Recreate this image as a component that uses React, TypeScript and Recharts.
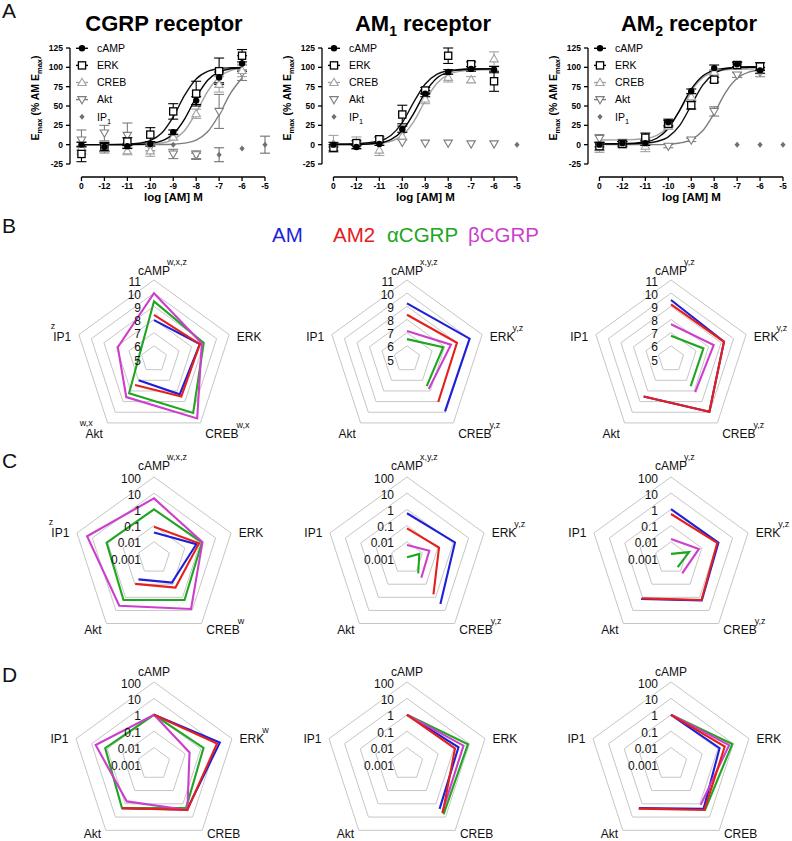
import React from 'react';
import {
  ComposedChart, Line, Scatter, XAxis, YAxis, ErrorBar, ReferenceLine,
  RadarChart, Radar, PolarGrid, PolarAngleAxis, PolarRadiusAxis,
} from 'recharts';

const FONT = '"Liberation Sans", Arial, Helvetica, sans-serif';

/* ---------------- Panel A : concentration-response ---------------- */
const CONC = [-13, -12, -11, -10, -9, -8, -7, -6]; // -13 = vehicle ("0")
const X_TICKS = [-13, -12, -11, -10, -9, -8, -7, -6, -5];
const Y_TICKS = [-25, 0, 25, 50, 75, 100, 125];
const CURVE_X = [-13, -12, -11, -10.5, -10, -9.5, -9, -8.5, -8, -7.5, -7, -6.5, -6];
const PATHWAYS = ['cAMP', 'ERK', 'CREB', 'Akt', 'IP1'];

// CGRP receptor
const CGRP_CAMP = [0, -3, -2, 1, 16, 57, 87, 105];
const CGRP_CAMP_SEM = [3, 5, 3, 3, 3, 5, 7, 10];
const CGRP_ERK = [-12, -3, 4, 13, 43, 66, 95, 115];
const CGRP_ERK_SEM = [10, 6, 5, 9, 10, 16, 17, 8];
const CGRP_CREB = [-4, -5, -8, -8, 10, 40, 78, 96];
const CGRP_CREB_SEM = [8, 6, 5, 7, 4, 6, 10, 8];
const CGRP_AKT = [6, 15, 12, -3, -12, -13, 43, 93];
const CGRP_AKT_SEM = [13, 10, 16, 5, 6, 5, 22, 10];
const CGRP_IP1_X = [-9, -8, -7, -6, -5];
const CGRP_IP1 = [0, -15, -13, -5, 0];
const CGRP_IP1_SEM = [0, 4, 9, 0, 11];
const CGRP_FIT_CAMP = [0, 0, 0.2, 0.5, 1.6, 4.8, 13.7, 33.4, 61.3, 83.4, 94.1, 98.1, 99.4];
const CGRP_FIT_ERK = [0, 0.1, 0.6, 1.8, 5.3, 15.1, 36, 64, 84.9, 94.7, 98.3, 99.4, 99.8];
const CGRP_FIT_CREB = [0, 0, 0.1, 0.2, 0.7, 2.2, 6.6, 18.3, 41.5, 69, 87.6, 95.7, 98.6];
const CGRP_FIT_AKT = [0, 0, 0, 0, 0.1, 0.2, 0.6, 2, 5.9, 16.6, 38.7, 66.6, 86.3];

// AM1 receptor
const AM1_CAMP = [0, -3, 1, 20, 66, 94, 98, 97];
const AM1_CAMP_SEM = [3, 2, 2, 4, 4, 3, 3, 4];
const AM1_ERK = [-4, 2, 7, 39, 70, 115, 104, 82];
const AM1_ERK_SEM = [4, 3, 3, 12, 4, 10, 3, 13];
const AM1_CREB = [1, 2, -7, 11, 59, 87, 84, 111];
const AM1_CREB_SEM = [11, 8, 7, 5, 6, 6, 4, 9];
const AM1_AKT = [null, null, null, 3, 2, 2, 1, 1];
const AM1_AKT_SEM = [0, 0, 0, 0, 0, 0, 0, 0];
const AM1_IP1_X = [-5];
const AM1_IP1 = [0];
const AM1_IP1_SEM = [0];
const AM1_FIT_CAMP = [0, 0.2, 2.1, 6.5, 17.9, 40.6, 67.7, 85.9, 93.8, 96.6, 97.6, 97.9, 98];
const AM1_FIT_ERK = [1, 1.4, 4.7, 11.9, 28.6, 55, 78.5, 90.9, 95.6, 97.2, 97.8, 98, 98];
const AM1_FIT_CREB = [0, 0.1, 1.4, 4.2, 12, 29.9, 56.8, 79.2, 90.6, 94.8, 96.3, 96.8, 96.9];

// AM2 receptor
const AM2_CAMP = [0, 2, 2, 29, 69, 99, 104, 96];
const AM2_CAMP_SEM = [3, 2, 3, 4, 3, 4, 3, 4];
const AM2_ERK = [-2, 1, 9, 27, 51, 84, 103, 101];
const AM2_ERK_SEM = [5, 3, 6, 4, 5, 3, 3, 5];
const AM2_CREB = [-4, 0, -2, 24, 62, 94, 101, 97];
const AM2_CREB_SEM = [6, 4, 7, 4, 4, 3, 3, 9];
const AM2_AKT = [8, 3, 3, -2, 6, 43, 90, 94];
const AM2_AKT_SEM = [5, 3, 3, 2, 2, 6, 3, 6];
const AM2_IP1_X = [-7, -6, -5];
const AM2_IP1 = [0, 0, 0];
const AM2_IP1_SEM = [0, 0, 0];
const AM2_FIT_CAMP = [1, 1.2, 3.4, 8.3, 20.9, 44.8, 71.8, 88.9, 96.2, 98.8, 99.6, 99.9, 100];
const AM2_FIT_ERK = [1, 1.1, 2, 4.1, 10.1, 25, 51, 77, 91.9, 97.9, 100, 100.7, 100.9];
const AM2_FIT_CREB = [6, 6.2, 8, 12.1, 22.8, 44.1, 69.6, 86.6, 94, 96.7, 97.6, 97.9, 98];
const AM2_FIT_AKT = [0, 0, 0, 0, 0.7, 2.1, 6.5, 17.9, 40.6, 67.7, 85.9, 93.7, 96.6];

/* ---------------- Panels B-D : radar plots ---------------- */
const LIGANDS = ['AM', 'AM2', 'αCGRP', 'βCGRP'];
const LIGAND_KEYS = ['AM', 'AM2', 'aCGRP', 'bCGRP'];
const LIGAND_COLORS = ['#1f1fd8', '#e4201c', '#20a620', '#cc3fcc'];
const DRAW_ORDER = [0, 2, 3, 1];
const P_TICKS = [5, 6, 7, 8, 9, 10, 11];
const LOG_TICKS = [0.001, 0.01, 0.1, 1, 10, 100];

// B: potency (pEC50), order cAMP, ERK, CREB, Akt, IP1
const B_CGRP_AM = [7.95, 8.66, 8.32, 6.99, null];
const B_CGRP_AM2 = [8.36, 8.66, 8.53, 7.45, null];
const B_CGRP_ACGRP = [9.38, 8.97, 10.06, 8.22, null];
const B_CGRP_BCGRP = [10.0, 8.82, 10.58, 8.58, 7.89];
const B_AM1_AM = [9.23, 10.0, 9.91, null, null];
const B_AM1_AM2 = [8.36, 8.99, 9.04, null, null];
const B_AM1_ACGRP = [6.51, 7.89, 7.55, null, null];
const B_AM1_BCGRP = [7.13, 8.51, 7.81, null, null];
const B_AM2_AM = [9.48, 9.23, 9.96, 8.53, null];
const B_AM2_AM2 = [9.15, 9.23, 9.96, 8.53, null];
const B_AM2_ACGRP = [6.77, 7.59, 7.55, null, null];
const B_AM2_BCGRP = [7.64, 8.41, 8.12, null, null];

// C: relative values (log axis)
const C_CGRP_AM = [0.038, 0.56, 0.076, 0.043, null];
const C_CGRP_AM2 = [0.085, 0.83, 0.18, 0.095, null];
const C_CGRP_ACGRP = [1.0, 1.3, 1.6, 1.6, 1.2];
const C_CGRP_BCGRP = [4.8, 1.4, 7.8, 4.4, 22];
const C_AM1_AM = [0.58, 1.3, 3.2, null, null];
const C_AM1_AM2 = [0.068, 0.12, 0.6, null, null];
const C_AM1_ACGRP = [0.0011, 0.0063, 0.015, null, null];
const C_AM1_BCGRP = [0.0064, 0.028, 0.032, null, null];
const C_AM2_AM = [1.05, 1.2, 1.7, 1.35, null];
const C_AM2_AM2 = [0.52, 1.0, 1.6, 1.2, null];
const C_AM2_ACGRP = [0.0018, 0.015, 0.005, null, null];
const C_AM2_BCGRP = [0.015, 0.065, 0.015, null, null];

// D: normalised to cAMP (log axis)
const D_CGRP_AM = [1, 16.6, 2.7, 2.1, null];
const D_CGRP_AM2 = [1, 11, 2.9, 2.1, null];
const D_CGRP_ACGRP = [1, 1.5, 2.1, 2.1, 1.35];
const D_CGRP_BCGRP = [1, 0.19, 2.9, 0.66, 5.5];
const D_AM1_AM = [1, 2, 2.4, null, null];
const D_AM1_AM2 = [1, 1.2, 5, null, null];
const D_AM1_ACGRP = [1, 8.1, 6.2, null, null];
const D_AM1_BCGRP = [1, 4.2, 4.5, null, null];
const D_AM2_AM = [1, 1.3, 2.4, 2.1, null];
const D_AM2_AM2 = [1, 2.8, 2.9, 2.3, null];
const D_AM2_ACGRP = [1, 8.5, 3.2, null, null];
const D_AM2_BCGRP = [1, 5.3, 1.2, null, null];

// superscript letters on axis labels
const SUP_B_CGRP = ['w,x,z', '', 'w,x', 'w,x', 'z'];
const SUP_B_AM1 = ['x,y,z', 'y,z', 'y,z', '', ''];
const SUP_B_AM2 = ['y,z', 'y,z', 'y,z', '', ''];
const SUP_C_CGRP = ['w,x,z', '', 'w', '', 'z'];
const SUP_C_AM1 = ['x,y,z', 'y,z', 'y,z', '', ''];
const SUP_C_AM2 = ['y,z', 'y,z', 'y,z', '', ''];
const SUP_D_CGRP = ['', 'w', '', '', ''];
const SUP_D_NONE = ['', '', '', '', ''];

/* ---------------- colours ---------------- */
const C_BLACK = '#000';
const C_CREB = '#a3a3a3';
const C_AKT = '#7d7d7d';
const C_IP1 = '#707070';

/* ---------------- helpers ---------------- */
type Pt = { x: number; y: number; e: number };
const toPts = (xs: number[], ys: (number | null)[], es: number[]): Pt[] =>
  xs
    .map((x, i) => ({ x, y: ys[i] as number, e: es[i] }))
    .filter((p) => p.y !== null && p.y !== undefined);
const toCurve = (ys: number[]) => CURVE_X.map((x, i) => ({ x, y: ys[i] }));

const shapeCircle = (p: any) => <circle cx={p.cx} cy={p.cy} r={3.2} fill={C_BLACK} />;
const shapeSquare = (p: any) => (
  <rect x={p.cx - 3.6} y={p.cy - 3.6} width={7.2} height={7.2} fill="#fff" stroke={C_BLACK} strokeWidth={1.3} />
);
const shapeTriUp = (p: any) => (
  <path d={`M${p.cx} ${p.cy - 4.2}L${p.cx + 4.2} ${p.cy + 3}L${p.cx - 4.2} ${p.cy + 3}Z`} fill="#fff" stroke={C_CREB} strokeWidth={1.1} />
);
const shapeTriDown = (p: any) => (
  <path d={`M${p.cx} ${p.cy + 4.2}L${p.cx + 4.2} ${p.cy - 3}L${p.cx - 4.2} ${p.cy - 3}Z`} fill="#fff" stroke={C_AKT} strokeWidth={1.1} />
);
const shapeDiamond = (p: any) => (
  <path d={`M${p.cx} ${p.cy - 3}L${p.cx + 2.6} ${p.cy}L${p.cx} ${p.cy + 3}L${p.cx - 2.6} ${p.cy}Z`} fill={C_IP1} />
);

const YLabel = (props: any) => {
  const vb = props.viewBox || { x: 30, y: 48, width: 40, height: 129 };
  const x = vb.x + 8.5;
  const y = 98;
  return (
    <text x={x} y={y} transform={`rotate(-90, ${x}, ${y})`} textAnchor="middle" fontFamily={FONT} fontWeight="bold" fontSize={10.5} fill="#000">
      E<tspan dy={3} fontSize={7.5}>max</tspan>
      <tspan dy={-3}> (% AM E</tspan>
      <tspan dy={3} fontSize={7.5}>max</tspan>
      <tspan dy={-3}>)</tspan>
    </text>
  );
};

const XLabel = (props: any) => {
  const vb = props.viewBox || { x: 70, y: 177, width: 195, height: 38 };
  return (
    <text x={vb.x + vb.width / 2 + 6} y={vb.y + 24} textAnchor="middle" fontFamily={FONT} fontWeight="bold" fontSize={11.5} fill="#000">
      log [AM] M
    </text>
  );
};

type Series = { pts: Pt[]; shape: any; color: string };
type Fit = { ys: number[]; color: string };

const CHART_W = 272;
const CHART_H = 215;
const PLOT_LEFT = 70;

function DoseChart({ left, fits, series }: { left: number; fits: Fit[]; series: Series[] }) {
  return (
    <div style={{ position: 'absolute', left, top: 0 }}>
      <ComposedChart width={CHART_W} height={CHART_H} margin={{ top: 48, right: 7, bottom: 0, left: 30 }}>
        <XAxis
          type="number"
          dataKey="x"
          domain={[-13.5, -5]}
          ticks={X_TICKS}
          tickFormatter={(v: number) => (v === -13 ? '0' : String(v))}
          axisLine={false}
          tickLine={{ stroke: '#000', strokeWidth: 1.3 }}
          tickSize={4}
          tickMargin={2}
          height={38}
          tick={{ fontFamily: FONT, fontWeight: 'bold', fontSize: 8.5, fill: '#000' }}
          interval={0}
          label={<XLabel />}
        />
        <YAxis
          type="number"
          domain={[-41.8, 125]}
          ticks={Y_TICKS}
          axisLine={false}
          tickLine={{ stroke: '#000', strokeWidth: 1.3 }}
          tickSize={4}
          tickMargin={3}
          width={40}
          tick={{ fontFamily: FONT, fontWeight: 'bold', fontSize: 8.5, fill: '#000' }}
          interval={0}
          label={<YLabel />}
        />
        <ReferenceLine segment={[{ x: -13.5, y: -25 }, { x: -13.5, y: 125 }]} stroke="#000" strokeWidth={1.3} />
        <ReferenceLine segment={[{ x: -13, y: -41.8 }, { x: -5, y: -41.8 }]} stroke="#000" strokeWidth={1.5} />
        {fits.map((f, i) => (
          <Line
            key={'f' + i}
            data={toCurve(f.ys)}
            dataKey="y"
            type="monotone"
            stroke={f.color}
            strokeWidth={1.4}
            dot={false}
            activeDot={false}
            isAnimationActive={false}
          />
        ))}
        {series.map((s, i) => (
          <Scatter key={'s' + i} data={s.pts} dataKey="y" shape={s.shape} isAnimationActive={false}>
            <ErrorBar dataKey="e" direction="y" width={5} stroke={s.color} strokeWidth={1.1} />
          </Scatter>
        ))}
      </ComposedChart>
    </div>
  );
}

/* ---------------- radar ---------------- */
type LabelOffsets = { top: number; side: number; bottom: number };

const AngleTick = (props: any) => {
  const { x, y, payload, sups, off } = props;
  const name = payload.value as string;
  const i = PATHWAYS.indexOf(name);
  const sup = sups[i] || '';
  const o: LabelOffsets = off;
  const base = { fontFamily: FONT, fontSize: 12, fill: '#111' };
  const supSize = 9;
  if (i === 0) {
    return (
      <g>
        <text x={x} y={y + o.top} textAnchor="middle" {...base}>{name}</text>
        {sup ? <text x={x + 13} y={y + o.top - 10} textAnchor="start" {...base} fontSize={supSize}>{sup}</text> : null}
      </g>
    );
  }
  if (i === 1 || i === 2) {
    const dy = i === 1 ? o.side : o.bottom;
    return (
      <text x={x} y={y + dy} textAnchor="start" {...base}>
        {name}
        {sup ? <tspan dx={-2} dy={-10} fontSize={supSize}>{sup}</tspan> : null}
      </text>
    );
  }
  const dy = i === 4 ? o.side : o.bottom;
  const supDx = i === 4 ? -16 : -10;
  return (
    <g>
      <text x={x} y={y + dy} textAnchor="end" {...base}>{name}</text>
      {sup ? <text x={x + supDx} y={y + dy - 12} textAnchor="end" {...base} fontSize={supSize}>{sup}</text> : null}
    </g>
  );
};

const RadiusTick = (props: any) => {
  const { x, y, payload } = props;
  return (
    <text x={x - 13} y={y + 5.5} textAnchor="end" fontFamily={FONT} fontSize={12} fill="#111">
      {String(payload.value)}
    </text>
  );
};

// Draws the radar outline, leaving gaps where a value is missing
// (or bridging the gap when `bridge` is true).
const makeRadarShape = (color: string, bridge: boolean) => (props: any) => {
  const pts: any[] = props.points || [];
  const n = pts.length;
  const ok = pts.map((p) => p && p.value !== null && p.value !== undefined && Number.isFinite(p.x) && Number.isFinite(p.y));
  const f = (p: any) => `${p.x.toFixed(2)},${p.y.toFixed(2)}`;
  let d = '';
  if (bridge || ok.every(Boolean)) {
    const vp = pts.filter((_, i) => ok[i]);
    if (vp.length > 1) d = 'M' + vp.map(f).join('L') + 'Z';
  } else {
    for (let s = 0; s < n; s++) {
      if (!ok[s] || ok[(s - 1 + n) % n]) continue;
      const seg: any[] = [];
      let k = s;
      while (ok[k] && seg.length < n) {
        seg.push(pts[k]);
        k = (k + 1) % n;
      }
      if (seg.length > 1) d += 'M' + seg.map(f).join('L');
    }
  }
  return <path d={d} fill="none" stroke={color} strokeWidth={2.1} strokeLinejoin="miter" />;
};

const R_W = 250;
const R_H = 230;

function RadarPanel({
  cx, cy, r, values, sups, log, off, bridge,
}: {
  cx: number; cy: number; r: number; values: (number | null)[][]; sups: string[]; log: boolean; off: LabelOffsets; bridge?: boolean[];
}) {
  const data = PATHWAYS.map((p, i) => {
    const row: any = { axis: p };
    LIGAND_KEYS.forEach((k, j) => {
      row[k] = values[j][i];
    });
    return row;
  });
  return (
    <div style={{ position: 'absolute', left: cx - R_W / 2, top: cy - R_H / 2 }}>
      <RadarChart width={R_W} height={R_H} data={data} cx={R_W / 2} cy={R_H / 2} outerRadius={r} margin={{ top: 0, right: 0, bottom: 0, left: 0 }}>
        <PolarGrid gridType="polygon" radialLines={false} stroke="#c6c6c6" strokeWidth={1} />
        <PolarAngleAxis dataKey="axis" tick={<AngleTick sups={sups} off={off} />} tickLine={false} axisLine={false} />
        {log ? (
          <PolarRadiusAxis angle={90} scale="log" domain={[0.001, 100]} ticks={LOG_TICKS as any} tickCount={6} axisLine={false} tick={<RadiusTick />} />
        ) : (
          <PolarRadiusAxis angle={90} type="number" domain={[5, 11]} tickCount={7} ticks={P_TICKS as any} axisLine={false} tick={<RadiusTick />} />
        )}
        {DRAW_ORDER.map((j) => (
          <Radar
            key={LIGAND_KEYS[j]}
            dataKey={LIGAND_KEYS[j]}
            stroke={LIGAND_COLORS[j]}
            strokeWidth={2}
            fill="none"
            fillOpacity={0}
            dot={false}
            isAnimationActive={false}
            shape={makeRadarShape(LIGAND_COLORS[j], !!(bridge && bridge[j]))}
          />
        ))}
      </RadarChart>
    </div>
  );
}

/* ---------------- legend of panel A ---------------- */
const LegendA = ({ left, lines }: { left: number; lines: boolean[] }) => {
  const sx = left + PLOT_LEFT + 12;
  const tx = left + PLOT_LEFT + 27;
  const shapes = [shapeCircle, shapeSquare, shapeTriUp, shapeTriDown, shapeDiamond];
  const colors = [C_BLACK, C_BLACK, C_CREB, C_AKT, C_IP1];
  return (
    <g>
      {PATHWAYS.map((p, i) => {
        const y = 48.3 + 17.1 * i;
        return (
          <g key={p}>
            {lines[i] ? <line x1={sx - 6} x2={sx + 6} y1={y} y2={y} stroke={colors[i]} strokeWidth={1.4} /> : null}
            {shapes[i]({ cx: sx, cy: y })}
            <text x={tx} y={y + 3.8} fontFamily={FONT} fontSize={10.5} fill="#000">
              {p === 'IP1' ? (
                <>
                  IP<tspan dy={3} fontSize={7.5}>1</tspan>
                </>
              ) : (
                p
              )}
            </text>
          </g>
        );
      })}
    </g>
  );
};

const OFF_B: LabelOffsets = { top: 3, side: 9, bottom: 8.5 };
const OFF_C: LabelOffsets = { top: 1, side: 7, bottom: 4 };
const OFF_D: LabelOffsets = { top: 1.5, side: 7, bottom: 1 };

export default function App() {
  const cgrpSeries: Series[] = [
    { pts: toPts(CGRP_IP1_X, CGRP_IP1, CGRP_IP1_SEM), shape: shapeDiamond, color: C_IP1 },
    { pts: toPts(CONC, CGRP_AKT, CGRP_AKT_SEM), shape: shapeTriDown, color: C_AKT },
    { pts: toPts(CONC, CGRP_CREB, CGRP_CREB_SEM), shape: shapeTriUp, color: C_CREB },
    { pts: toPts(CONC, CGRP_ERK, CGRP_ERK_SEM), shape: shapeSquare, color: C_BLACK },
    { pts: toPts(CONC, CGRP_CAMP, CGRP_CAMP_SEM), shape: shapeCircle, color: C_BLACK },
  ];
  const am1Series: Series[] = [
    { pts: toPts(AM1_IP1_X, AM1_IP1, AM1_IP1_SEM), shape: shapeDiamond, color: C_IP1 },
    { pts: toPts(CONC, AM1_AKT, AM1_AKT_SEM), shape: shapeTriDown, color: C_AKT },
    { pts: toPts(CONC, AM1_CREB, AM1_CREB_SEM), shape: shapeTriUp, color: C_CREB },
    { pts: toPts(CONC, AM1_ERK, AM1_ERK_SEM), shape: shapeSquare, color: C_BLACK },
    { pts: toPts(CONC, AM1_CAMP, AM1_CAMP_SEM), shape: shapeCircle, color: C_BLACK },
  ];
  const am2Series: Series[] = [
    { pts: toPts(AM2_IP1_X, AM2_IP1, AM2_IP1_SEM), shape: shapeDiamond, color: C_IP1 },
    { pts: toPts(CONC, AM2_AKT, AM2_AKT_SEM), shape: shapeTriDown, color: C_AKT },
    { pts: toPts(CONC, AM2_CREB, AM2_CREB_SEM), shape: shapeTriUp, color: C_CREB },
    { pts: toPts(CONC, AM2_ERK, AM2_ERK_SEM), shape: shapeSquare, color: C_BLACK },
    { pts: toPts(CONC, AM2_CAMP, AM2_CAMP_SEM), shape: shapeCircle, color: C_BLACK },
  ];

  const cols = [154, 407, 671];

  const title = { fontFamily: FONT, fontWeight: 'bold' as const, fontSize: 22, fill: '#000' };
  const letter = { fontFamily: FONT, fontSize: 21, fill: '#111' };

  return (
    <div style={{ position: 'absolute', left: 0, top: 0, width: 792, height: 841, overflow: 'hidden', background: '#fff' }}>
      <svg width={792} height={841} style={{ position: 'absolute', left: 0, top: 0 }}>
        <text x={2} y={18} {...letter}>A</text>
        <text x={2} y={233} {...letter}>B</text>
        <text x={2} y={468} {...letter}>C</text>
        <text x={2} y={682} {...letter}>D</text>
        <text x={164} y={31} textAnchor="middle" {...title}>CGRP receptor</text>
        <text x={423} y={31} textAnchor="middle" {...title}>
          AM<tspan dy={5} fontSize={14}>1</tspan>
          <tspan dy={-5}> receptor</tspan>
        </text>
        <text x={689} y={31} textAnchor="middle" {...title}>
          AM<tspan dy={5} fontSize={14}>2</tspan>
          <tspan dy={-5}> receptor</tspan>
        </text>
        <LegendA left={0} lines={[true, true, true, true, false]} />
        <LegendA left={252} lines={[true, true, true, false, false]} />
        <LegendA left={518} lines={[true, true, true, true, false]} />
        {LIGANDS.map((l, i) => (
          <text key={l} x={[272, 333, 387, 468][i]} y={242} fontFamily={FONT} fontSize={20.5} fill={LIGAND_COLORS[i]}>
            {l}
          </text>
        ))}
      </svg>

      <DoseChart left={0} fits={[
        { ys: CGRP_FIT_AKT, color: C_AKT },
        { ys: CGRP_FIT_CREB, color: C_CREB },
        { ys: CGRP_FIT_ERK, color: '#111' },
        { ys: CGRP_FIT_CAMP, color: C_BLACK },
      ]} series={cgrpSeries} />
      <DoseChart left={252} fits={[
        { ys: AM1_FIT_CREB, color: C_CREB },
        { ys: AM1_FIT_ERK, color: '#111' },
        { ys: AM1_FIT_CAMP, color: C_BLACK },
      ]} series={am1Series} />
      <DoseChart left={518} fits={[
        { ys: AM2_FIT_AKT, color: C_AKT },
        { ys: AM2_FIT_CREB, color: C_CREB },
        { ys: AM2_FIT_ERK, color: '#111' },
        { ys: AM2_FIT_CAMP, color: C_BLACK },
      ]} series={am2Series} />

      <RadarPanel cx={cols[0]} cy={359} r={79} off={OFF_B} log={false} sups={SUP_B_CGRP} bridge={[false, false, true, false]} values={[B_CGRP_AM, B_CGRP_AM2, B_CGRP_ACGRP, B_CGRP_BCGRP]} />
      <RadarPanel cx={cols[1]} cy={359} r={79} off={OFF_B} log={false} sups={SUP_B_AM1} values={[B_AM1_AM, B_AM1_AM2, B_AM1_ACGRP, B_AM1_BCGRP]} />
      <RadarPanel cx={cols[2]} cy={359} r={79} off={OFF_B} log={false} sups={SUP_B_AM2} values={[B_AM2_AM, B_AM2_AM2, B_AM2_ACGRP, B_AM2_BCGRP]} />

      <RadarPanel cx={cols[0]} cy={558} r={81} off={OFF_C} log sups={SUP_C_CGRP} values={[C_CGRP_AM, C_CGRP_AM2, C_CGRP_ACGRP, C_CGRP_BCGRP]} />
      <RadarPanel cx={cols[1]} cy={558} r={81} off={OFF_C} log sups={SUP_C_AM1} values={[C_AM1_AM, C_AM1_AM2, C_AM1_ACGRP, C_AM1_BCGRP]} />
      <RadarPanel cx={cols[2]} cy={558} r={81} off={OFF_C} log sups={SUP_C_AM2} values={[C_AM2_AM, C_AM2_AM2, C_AM2_ACGRP, C_AM2_BCGRP]} />

      <RadarPanel cx={cols[0]} cy={763.5} r={82} off={OFF_D} log sups={SUP_D_CGRP} values={[D_CGRP_AM, D_CGRP_AM2, D_CGRP_ACGRP, D_CGRP_BCGRP]} />
      <RadarPanel cx={cols[1]} cy={763.5} r={82} off={OFF_D} log sups={SUP_D_NONE} values={[D_AM1_AM, D_AM1_AM2, D_AM1_ACGRP, D_AM1_BCGRP]} />
      <RadarPanel cx={cols[2]} cy={763.5} r={82} off={OFF_D} log sups={SUP_D_NONE} values={[D_AM2_AM, D_AM2_AM2, D_AM2_ACGRP, D_AM2_BCGRP]} />
    </div>
  );
}
